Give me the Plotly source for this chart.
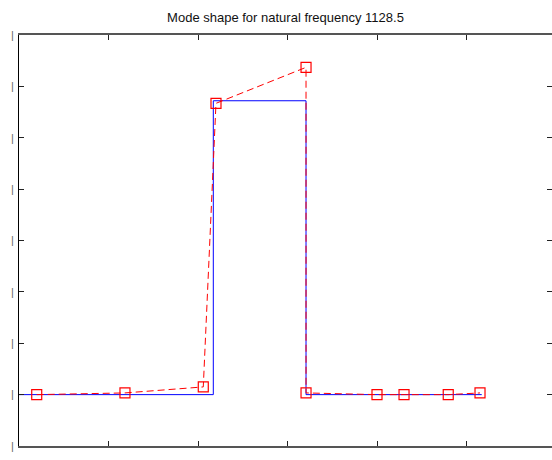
import plotly.graph_objects as go

# Data
blue_x = [0.0, 2.171, 2.171, 3.207, 3.207, 5.17]
blue_y = [0.0, 0.0, 1.144, 1.144, 0.0, 0.0]
red_x = [0.198, 1.184, 2.059, 2.201, 3.207, 3.207, 4.0, 4.302, 4.796, 5.151]
red_y = [0.0, 0.0066, 0.030, 1.134, 1.274, 0.0066, 0.0, 0.0, 0.0, 0.0066]

x_ticks = [0, 1, 2, 3, 4, 5]
y_ticks = [-0.2, 0.0, 0.2, 0.4, 0.6, 0.8, 1.0, 1.2, 1.4]
title_text = "Mode shape for natural frequency 1128.5"

fig = go.Figure()
fig.add_trace(go.Scatter(x=blue_x, y=blue_y, mode="lines",
                         line=dict(color="#0000ff", width=1), showlegend=False))
fig.add_trace(go.Scatter(x=red_x, y=red_y, mode="lines+markers",
                         line=dict(color="#ff0000", width=1, dash="7px,4px"),
                         marker=dict(symbol="square-open", size=10, color="#ff0000",
                                     line=dict(width=1.2, color="#ff0000")),
                         showlegend=False))

fig.update_layout(
    width=552, height=460,
    margin=dict(l=19, r=0, t=35, b=14, autoexpand=False),
    paper_bgcolor="white", plot_bgcolor="white",
    title=dict(text=title_text, x=0.5, xref="paper", y=1 - 17 / 460, yref="container",
               yanchor="middle", xanchor="center", automargin=False,
               font=dict(family="Liberation Sans, Arial", size=13, color="#111")),
    xaxis=dict(range=[0, (552 - 19) / 89.5], tickvals=x_ticks, showticklabels=False,
               ticks="inside", ticklen=5, tickcolor="#222", tickwidth=1,
               showline=True, linecolor="#555", linewidth=2, mirror="ticks",
               showgrid=False, zeroline=False, automargin=False),
    yaxis=dict(range=[-0.2, 1.4], tickvals=y_ticks, ticktext=["|"] * len(y_ticks),
               ticks="inside", ticklen=5, tickcolor="#222", tickwidth=1,
               showline=True, linecolor="#000", linewidth=1, mirror="ticks",
               showgrid=False, zeroline=False, automargin=False,
               ticklabelstandoff=2,
               tickfont=dict(family="Liberation Sans, Arial", size=11, color="#666")),
)

fig.write_html("out.html")
